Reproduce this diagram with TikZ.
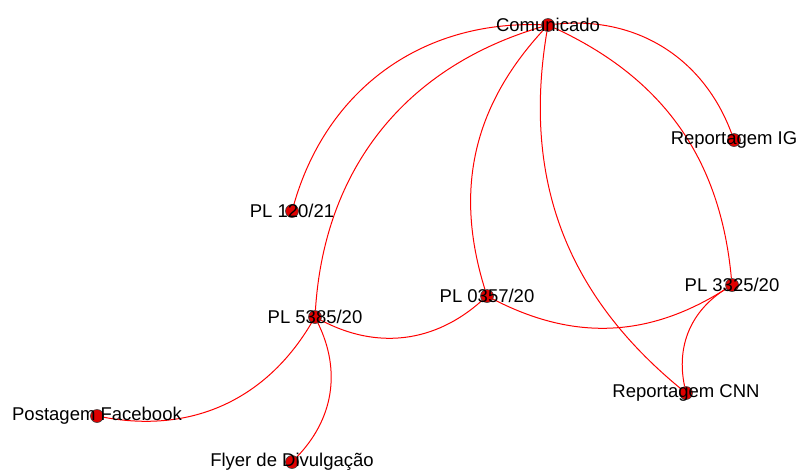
\documentclass[tikz,border=0pt]{standalone}
\usepackage{fontspec}
\setmainfont{Liberation Sans}
\usetikzlibrary{backgrounds}
\begin{document}
\begin{tikzpicture}[x=1pt,y=-1pt,
  dot/.style={circle,fill=red!88!black,draw=black!75,line width=0.6pt,minimum size=13pt,inner sep=0pt},
  lbl/.style={font=\fontsize{18.5}{20}\selectfont,text=black,inner sep=0pt},
  edge/.style={draw=red,line width=1pt}]
\useasboundingbox (0,0) rectangle (798,472);
\node[dot] (com) at (548,25) {};
\node[dot] (ig) at (734,140) {};
\node[dot] (pl120) at (292,211) {};
\node[dot] (pl0357) at (487,296) {};
\node[dot] (pl3325) at (732,285) {};
\node[dot] (pl5385) at (315,317) {};
\node[dot] (cnn) at (686,393) {};
\node[dot] (fb) at (97,416) {};
\node[dot] (fly) at (292,462) {};
\begin{scope}[on background layer]
\fill[white] (0,0) rectangle (798,472);
\draw[edge] (com) to[bend right=38] (pl120);
\draw[edge] (com) to[bend left=38] (ig);
\draw[edge] (com) to[bend right=35] (pl5385);
\draw[edge] (com) to[bend right=30] (pl0357);
\draw[edge] (com) to[bend right=30] (cnn);
\draw[edge] (com) to[bend left=30] (pl3325);
\draw[edge] (pl5385) to[bend right=35] (pl0357);
\draw[edge] (pl0357) to[bend right=30] (pl3325);
\draw[edge] (pl3325) to[bend right=35] (cnn);
\draw[edge] (pl5385) to[bend left=35] (fb);
\draw[edge] (pl5385) to[bend left=35] (fly);
\end{scope}
\node[lbl] at (com) {Comunicado};
\node[lbl] at (ig) {Reportagem IG};
\node[lbl] at (pl120) {PL 120/21};
\node[lbl] at (pl0357) {PL 0357/20};
\node[lbl] at (pl3325) {PL 3325/20};
\node[lbl] at (pl5385) {PL 5385/20};
\node[lbl] at (cnn) {Reportagem CNN};
\node[lbl] at (fb) {Postagem Facebook};
\node[lbl] at (fly) {Flyer de Divulgação};
\end{tikzpicture}
\end{document}
